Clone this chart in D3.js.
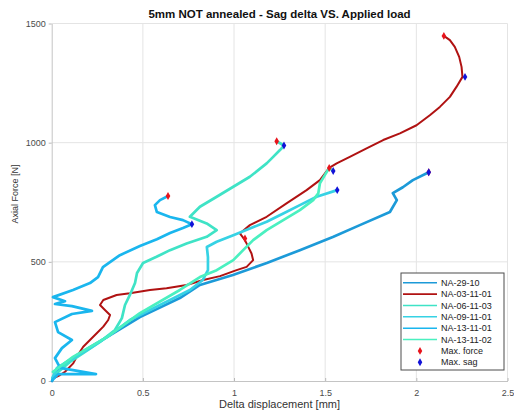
<!DOCTYPE html>
<html>
<head>
<meta charset="utf-8">
<script src="https://cdn.jsdelivr.net/npm/d3@7"></script>
<style>
  html, body { margin: 0; padding: 0; background: #fff; }
  svg { display: block; font-family: "Liberation Sans", Arial, sans-serif; }
</style>
</head>
<body>
<svg id="chart" width="514" height="414"></svg>
<script>
// ---- data: sag delta [mm] vs. axial force [N] per sample ----
const seriesNames = ["NA-29-10", "NA-03-11-01", "NA-06-11-03", "NA-09-11-01", "NA-13-11-01", "NA-13-11-02"];
const seriesColors = ["#1c9ad8", "#b01212", "#3fe3c6", "#36d2e4", "#1ab6ee", "#4af0c0"];

// NA-29-10
const na2910X = [0.002, 0.018, 0.046, 0.155, 0.303, 0.484, 0.703, 0.813, 0.994, 1.180, 1.361, 1.542, 1.690, 1.855, 1.893, 1.871, 1.926, 1.981, 2.068];
const na2910Y = [0, 29, 59, 117, 184, 268, 348, 403, 445, 495, 549, 604, 654, 709, 759, 788, 813, 843, 876];

// NA-03-11-01
const na031101X = [0.009, 0.046, 0.073, 0.118, 0.137, 0.173, 0.210, 0.247, 0.283, 0.310, 0.320, 0.292, 0.265, 0.283, 0.356, 0.429, 0.539, 0.630, 0.740, 0.831, 0.923, 1.014, 1.069, 1.105, 1.096, 1.078, 1.060, 1.032, 1.087, 1.179, 1.288, 1.398, 1.471, 1.522, 1.563, 1.635, 1.727, 1.818, 1.910, 2.001, 2.074, 2.129, 2.184, 2.220, 2.253, 2.248, 2.235, 2.211, 2.184, 2.151];
const na031101Y = [11, 25, 39, 74, 102, 144, 172, 200, 228, 256, 277, 298, 319, 340, 361, 368, 382, 389, 403, 424, 440, 465, 479, 507, 535, 563, 591, 619, 654, 689, 745, 801, 843, 894, 913, 940, 976, 1011, 1039, 1073, 1115, 1150, 1192, 1234, 1276, 1318, 1360, 1402, 1430, 1448];

// NA-06-11-03
const na061103X = [0.007, 0.035, 0.100, 0.183, 0.265, 0.347, 0.385, 0.402, 0.429, 0.457, 0.468, 0.501, 0.575, 0.649, 0.740, 0.850, 0.905, 0.850, 0.758, 0.813, 0.905, 0.996, 1.087, 1.179, 1.208, 1.252, 1.274, 1.234];
const na061103Y = [13, 38, 80, 122, 164, 214, 264, 319, 361, 411, 453, 495, 521, 549, 577, 605, 633, 661, 689, 731, 773, 815, 857, 913, 935, 969, 988, 1006];

// NA-09-11-01
const na091101X = [0.004, 0.029, 0.100, 0.210, 0.320, 0.429, 0.539, 0.649, 0.758, 0.829, 0.857, 0.857, 0.851, 0.905, 0.996, 1.087, 1.179, 1.270, 1.361, 1.453, 1.566];
const na091101Y = [13, 55, 88, 138, 193, 256, 298, 340, 382, 424, 465, 520, 562, 584, 612, 640, 668, 703, 738, 773, 801];

// NA-13-11-01
const na131101X = [0.004, 0.035, 0.243, 0.046, 0.018, 0.056, 0.111, 0.035, 0.018, 0.111, 0.221, 0.111, 0.018, 0.073, 0.007, 0.117, 0.210, 0.254, 0.281, 0.374, 0.484, 0.577, 0.649, 0.720, 0.769, 0.720, 0.649, 0.577, 0.566, 0.594, 0.638];
const na131101Y = [4, 29, 29, 55, 96, 138, 172, 205, 247, 281, 294, 314, 323, 335, 352, 382, 411, 436, 478, 528, 566, 595, 621, 642, 658, 675, 688, 709, 738, 759, 776];

// NA-13-11-02
const na131102X = [0.007, 0.117, 0.302, 0.484, 0.703, 0.813, 0.905, 0.996, 1.050, 1.105, 1.179, 1.270, 1.361, 1.434, 1.462, 1.471, 1.498, 1.522, 1.544];
const na131102Y = [38, 101, 184, 285, 382, 436, 465, 507, 549, 591, 633, 675, 717, 759, 787, 829, 864, 894, 881];

// maximum force / maximum sag markers
const maxForceX = [2.068, 2.151, 1.234, 1.060, 0.638, 1.522];
const maxForceY = [876, 1448, 1006, 598, 776, 894];
const maxSagX = [2.068, 2.267, 1.274, 1.566, 0.769, 1.544];
const maxSagY = [876, 1276, 988, 801, 658, 881];

const xTicks = [0, 0.5, 1, 1.5, 2, 2.5];
const xTickLabels = ["0", "0.5", "1", "1.5", "2", "2.5"];
const yTicks = [0, 500, 1000, 1500];
const yTickLabels = ["0", "500", "1000", "1500"];

const titleText = "5mm NOT annealed - Sag delta VS. Applied load";
const xLabelText = "Delta displacement [mm]";
const yLabelText = "Axial Force [N]";
const forceLabel = "Max. force";
const sagLabel = "Max. sag";

// ---- layout ----
const svg = d3.select("#chart");
const plot = { left: 51.7, right: 507.5, top: 23.5, bottom: 381 };

const x = d3.scaleLinear().domain([0, 2.5]).range([plot.left, plot.right]);
const y = d3.scaleLinear().domain([0, 1500]).range([plot.bottom, plot.top]);

// grid
const grid = svg.append("g");
grid.selectAll("line.gx").data(xTicks.slice(1)).enter().append("line")
  .attr("x1", d => x(d)).attr("x2", d => x(d))
  .attr("y1", plot.top).attr("y2", plot.bottom)
  .attr("stroke", "#e4e4e4").attr("stroke-width", 1);
grid.selectAll("line.gy").data(yTicks.slice(1)).enter().append("line")
  .attr("x1", plot.left).attr("x2", plot.right)
  .attr("y1", d => y(d)).attr("y2", d => y(d))
  .attr("stroke", "#e4e4e4").attr("stroke-width", 1);

// axes
const xAxis = d3.axisBottom(x).tickValues(xTicks).tickFormat((d, i) => xTickLabels[i]).tickSizeInner(-3).tickSizeOuter(0).tickPadding(9);
const yAxis = d3.axisLeft(y).tickValues(yTicks).tickFormat((d, i) => yTickLabels[i]).tickSizeInner(3).tickSizeOuter(0).tickPadding(3);

const gx = svg.append("g").attr("transform", `translate(0,${plot.bottom})`).call(xAxis);
const gy = svg.append("g").attr("transform", `translate(${plot.left},0)`).call(yAxis);
[gx, gy].forEach(g => {
  g.select(".domain").attr("stroke", "#c4c4c4");
  g.selectAll(".tick line").attr("stroke", "#b8b8b8");
  g.selectAll(".tick text").attr("fill", "#4a4a4a").attr("font-size", 9)
    .attr("font-family", "'Liberation Sans', Arial, sans-serif");
});

// series lines
const seriesX = [na2910X, na031101X, na061103X, na091101X, na131101X, na131102X];
const seriesY = [na2910Y, na031101Y, na061103Y, na091101Y, na131101Y, na131102Y];
const line = d3.line().x(d => x(d[0])).y(d => y(d[1]));

const lines = svg.append("g");
seriesNames.forEach((name, i) => {
  const pts = seriesX[i].map((v, k) => [v, seriesY[i][k]]);
  lines.append("path")
    .datum(pts)
    .attr("d", line)
    .attr("fill", "none")
    .attr("stroke", seriesColors[i])
    .attr("stroke-width", i === 1 ? 2.0 : 2.7)
    .attr("stroke-linejoin", "round")
    .attr("stroke-linecap", "round");
});

// markers
const diamond = d3.symbol().type(d3.symbolDiamond).size(18);
const marks = svg.append("g");
maxForceX.forEach((v, i) => {
  marks.append("path").attr("d", diamond)
    .attr("transform", `translate(${x(v)},${y(maxForceY[i])})`)
    .attr("fill", "#e8141c");
});
maxSagX.forEach((v, i) => {
  marks.append("path").attr("d", diamond)
    .attr("transform", `translate(${x(v)},${y(maxSagY[i])})`)
    .attr("fill", "#1212d8");
});

// title & axis labels
svg.append("text").attr("x", 279.5).attr("y", 18).attr("text-anchor", "middle")
  .attr("font-size", 11.5).attr("font-weight", "bold").attr("fill", "#111").text(titleText);
svg.append("text").attr("x", 279.5).attr("y", 408).attr("text-anchor", "middle")
  .attr("font-size", 11).attr("fill", "#333").text(xLabelText);
svg.append("text").attr("transform", "translate(18,194) rotate(-90)").attr("text-anchor", "middle")
  .attr("font-size", 9).attr("fill", "#333").text(yLabelText);

// legend
const lg = svg.append("g");
const lgBox = { x: 401, y: 273, w: 103, h: 97 };
lg.append("rect").attr("x", lgBox.x).attr("y", lgBox.y).attr("width", lgBox.w).attr("height", lgBox.h)
  .attr("fill", "#fff").attr("stroke", "#4d4d4d").attr("stroke-width", 1);
const rowY = i => 282.7 + i * 11.37;
seriesNames.forEach((name, i) => {
  lg.append("line").attr("x1", 403).attr("x2", 437).attr("y1", rowY(i)).attr("y2", rowY(i))
    .attr("stroke", seriesColors[i]).attr("stroke-width", i === 1 ? 1.8 : 1.4);
  lg.append("text").attr("x", 441).attr("y", rowY(i)).attr("dy", "0.35em")
    .attr("font-size", 9).attr("fill", "#222").text(name);
});
[[forceLabel, "#e8141c"], [sagLabel, "#1212d8"]].forEach((d, j) => {
  const ry = rowY(6 + j);
  lg.append("path").attr("d", diamond).attr("transform", `translate(420,${ry})`).attr("fill", d[1]);
  lg.append("text").attr("x", 441).attr("y", ry).attr("dy", "0.35em")
    .attr("font-size", 9).attr("fill", "#222").text(d[0]);
});
</script>
</body>
</html>
